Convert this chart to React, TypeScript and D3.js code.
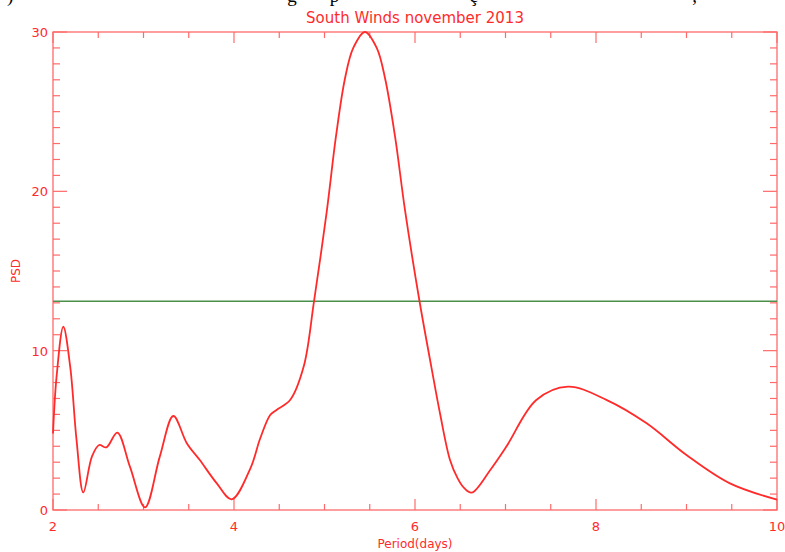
import React from "react";
import * as d3 from "d3";

const periods = [2.0, 2.04, 2.114, 2.19, 2.26, 2.335, 2.43, 2.51, 2.59, 2.71, 2.85, 3.017, 3.18, 3.33, 3.48, 3.62, 3.81, 3.975, 4.18, 4.29, 4.4, 4.47, 4.62, 4.77, 4.884, 5.024, 5.127, 5.227, 5.318, 5.447, 5.577, 5.669, 5.779, 5.89, 6.05, 6.18, 6.276, 6.387, 6.47, 6.54, 6.626, 6.83, 7.01, 7.34, 7.69, 8.12, 8.56, 9.0, 9.48, 10.0];
const psd = [4.8, 8.4, 11.5, 9.0, 4.4, 1.1, 3.35, 4.08, 3.93, 4.86, 2.72, 0.17, 3.35, 5.9, 4.18, 3.15, 1.67, 0.67, 2.6, 4.5, 5.96, 6.28, 6.9, 9.0, 13.1, 18.7, 23.46, 27.1, 29.0, 30.0, 29.0, 27.1, 23.46, 18.8, 13.1, 9.0, 6.07, 3.14, 2.0, 1.4, 1.09, 2.5, 3.98, 6.9, 7.74, 6.9, 5.44, 3.45, 1.67, 0.65];
const threshold = 13.1;
const xMajorTicks = [2, 4, 6, 8, 10];
const xMinorTicks = [2.5, 3, 3.5, 4.5, 5, 5.5, 6.5, 7, 7.5, 8.5, 9, 9.5];
const yMajorTicks = [0, 10, 20, 30];
const yMinorTicks = [1, 2, 3, 4, 5, 6, 7, 8, 9, 11, 12, 13, 14, 15, 16, 17, 18, 19, 21, 22, 23, 24, 25, 26, 27, 28, 29];
const title = "South Winds november 2013";
const xLabel = "Period(days)";
const yLabel = "PSD";
const captionGlyphs = [")", "g", "p", "ç", ","];
const captionPos = [0.009, 0.366, 0.42, 0.598, 0.882];

export default function App() {
  const W = 785, H = 552;
  const L = 53, R = 777, T = 32, B = 510;
  const x = d3.scaleLinear().domain([2, 10]).range([L, R]);
  const y = d3.scaleLinear().domain([0, 30]).range([B, T]);
  const pts = periods.map((p, i) => [p, psd[i]] as [number, number]);
  const line = d3.line<[number, number]>().x(d => x(d[0])).y(d => y(d[1])).curve(d3.curveCatmullRom.alpha(0.5));
  const axisColor = "#ff6a6a";
  const red = "#ff2b2b";
  const font = "'DejaVu Sans', Verdana, sans-serif";
  return (
    <svg width={W} height={H} style={{ position: "absolute", left: 0, top: 0, background: "#fff" }}>
      {captionGlyphs.map((g, i) => (
        <text key={i} x={captionPos[i] * W} y={2} fontFamily="'Liberation Serif', serif" fontSize={19} fill="#000">{g}</text>
      ))}
      <text x={(L + R) / 2} y={23} textAnchor="middle" fontFamily={font} fontSize={15} fill={red}>{title}</text>
      <rect x={L} y={T} width={R - L} height={B - T} fill="none" stroke={axisColor} strokeWidth={1.3} />
      {xMajorTicks.map(t => (
        <g key={"xM" + t}>
          <line x1={x(t)} x2={x(t)} y1={B} y2={B - 11} stroke={axisColor} strokeWidth={1.2} />
          <line x1={x(t)} x2={x(t)} y1={T} y2={T + 11} stroke={axisColor} strokeWidth={1.2} />
          <text x={x(t)} y={531} textAnchor="middle" fontFamily={font} fontSize={13} fill={red}>{t}</text>
        </g>
      ))}
      {xMinorTicks.map(t => (
        <g key={"xm" + t}>
          <line x1={x(t)} x2={x(t)} y1={B} y2={B - 6} stroke={axisColor} strokeWidth={1.2} />
          <line x1={x(t)} x2={x(t)} y1={T} y2={T + 6} stroke={axisColor} strokeWidth={1.2} />
        </g>
      ))}
      {yMajorTicks.map(t => (
        <g key={"yM" + t}>
          <line x1={L} x2={L + 14} y1={y(t)} y2={y(t)} stroke={axisColor} strokeWidth={1.2} />
          <line x1={R} x2={R - 14} y1={y(t)} y2={y(t)} stroke={axisColor} strokeWidth={1.2} />
          <text x={48} y={y(t) + 5} textAnchor="end" fontFamily={font} fontSize={13} fill={red}>{t}</text>
        </g>
      ))}
      {yMinorTicks.map(t => (
        <g key={"ym" + t}>
          <line x1={L} x2={L + 7} y1={y(t)} y2={y(t)} stroke={axisColor} strokeWidth={1.2} />
          <line x1={R} x2={R - 7} y1={y(t)} y2={y(t)} stroke={axisColor} strokeWidth={1.2} />
        </g>
      ))}
      <line x1={L} x2={R} y1={y(threshold)} y2={y(threshold)} stroke="#4a8f4a" strokeWidth={1.5} />
      <path d={line(pts) || ""} fill="none" stroke={red} strokeWidth={1.8} />
      <text x={(L + R) / 2} y={548} textAnchor="middle" fontFamily={font} fontSize={12} fill={red}>{xLabel}</text>
      <text transform={`translate(20, ${(T + B) / 2}) rotate(-90)`} textAnchor="middle" fontFamily={font} fontSize={12} fill={red}>{yLabel}</text>
    </svg>
  );
}
